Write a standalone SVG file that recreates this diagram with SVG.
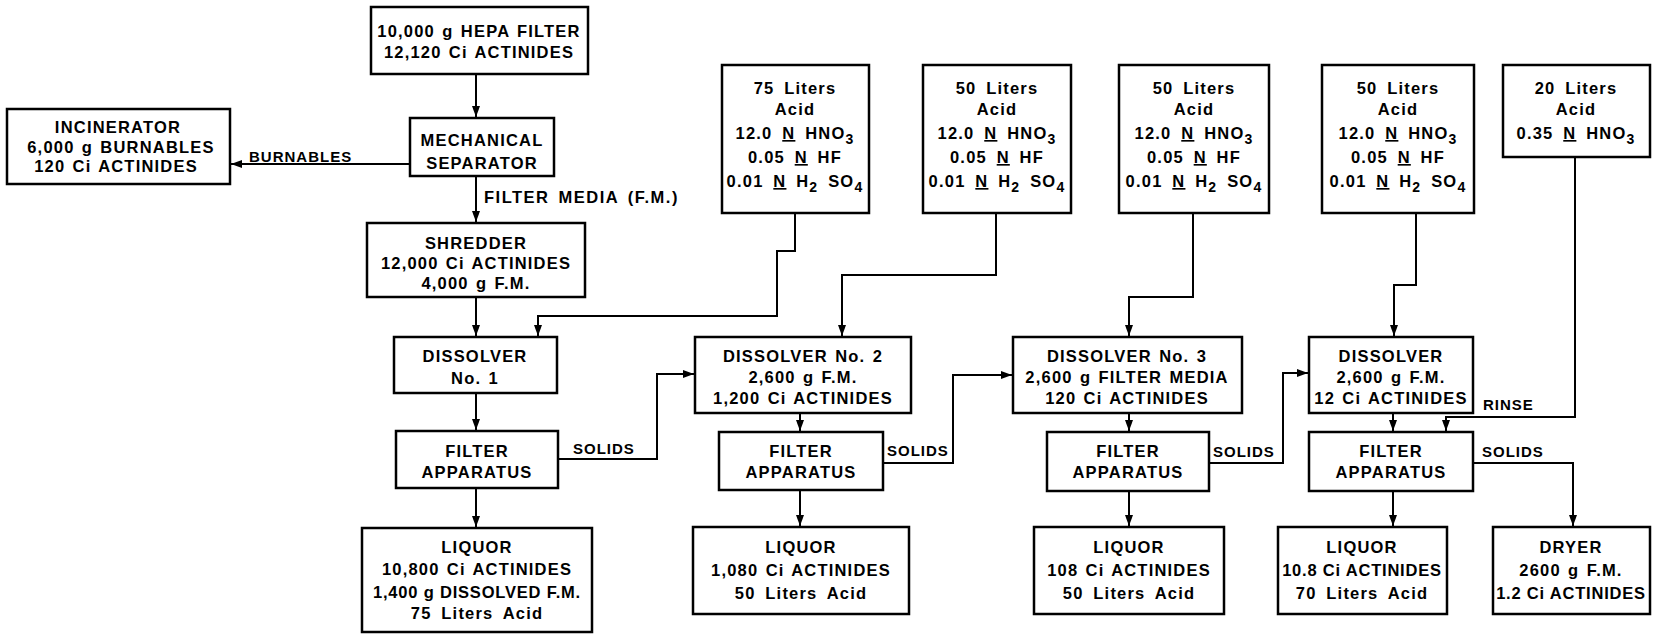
<svg xmlns="http://www.w3.org/2000/svg" width="1654" height="634" viewBox="0 0 1654 634">
<style>
.box{fill:#fff;stroke:#000;stroke-width:2.5}
.t{font-family:"Liberation Sans",Arial,sans-serif;font-weight:bold;font-size:16.5px;letter-spacing:1.2px;word-spacing:1.5px;text-anchor:middle;fill:#000}
.w{word-spacing:4px}
.n{letter-spacing:0.8px;word-spacing:0}
.lbl{font-family:"Liberation Sans",Arial,sans-serif;font-weight:bold;font-size:15px;letter-spacing:1px;fill:#000}
.big{font-size:16.5px;letter-spacing:1.5px;word-spacing:3px}
.c{fill:none;stroke:#000;stroke-width:2}
.u{text-decoration:underline}
.s{font-size:14px}
</style>
<defs>
<marker id="ar" markerUnits="userSpaceOnUse" markerWidth="12" markerHeight="10" refX="11" refY="4" orient="auto">
<path d="M0,0 L11,4 L0,8 Z" fill="#000"/>
</marker>
</defs>
<rect width="1654" height="634" fill="#fff"/>

<g id="connectors">
<path class="c" d="M476 74 V117" marker-end="url(#ar)"/>
<path class="c" d="M410 164 H231" marker-end="url(#ar)"/>
<path class="c" d="M476 176 V222" marker-end="url(#ar)"/>
<path class="c" d="M476 297 V336" marker-end="url(#ar)"/>
<path class="c" d="M795 213 V251 H777 V316 H538 V336" marker-end="url(#ar)"/>
<path class="c" d="M476 393 V430" marker-end="url(#ar)"/>
<path class="c" d="M476 488 V527" marker-end="url(#ar)"/>
<path class="c" d="M558 459 H657 V374 H694" marker-end="url(#ar)"/>
<path class="c" d="M996 213 V275 H842 V336" marker-end="url(#ar)"/>
<path class="c" d="M800 413 V431" marker-end="url(#ar)"/>
<path class="c" d="M800 490 V526" marker-end="url(#ar)"/>
<path class="c" d="M883 463 H953 V375 H1012" marker-end="url(#ar)"/>
<path class="c" d="M1193 213 V297 H1129 V336" marker-end="url(#ar)"/>
<path class="c" d="M1129 413 V431" marker-end="url(#ar)"/>
<path class="c" d="M1129 491 V526" marker-end="url(#ar)"/>
<path class="c" d="M1209 463 H1283 V373 H1308" marker-end="url(#ar)"/>
<path class="c" d="M1416 213 V285 H1394 V336" marker-end="url(#ar)"/>
<path class="c" d="M1393 413 V431" marker-end="url(#ar)"/>
<path class="c" d="M1575 157 V417 H1446 V431" marker-end="url(#ar)"/>
<path class="c" d="M1393 491 V526" marker-end="url(#ar)"/>
<path class="c" d="M1473 463 H1573 V526" marker-end="url(#ar)"/>
<text class="lbl" x="249" y="162">BURNABLES</text>
<text class="lbl big" x="484" y="203">FILTER MEDIA (F.M.)</text>
<text class="lbl" x="573" y="454">SOLIDS</text>
<text class="lbl" x="887" y="456">SOLIDS</text>
<text class="lbl" x="1213" y="457">SOLIDS</text>
<text class="lbl" x="1483" y="410">RINSE</text>
<text class="lbl" x="1482" y="457">SOLIDS</text>
</g>

<g id="hepa">
<rect class="box" x="371" y="7" width="217" height="67"/>
<text class="t" x="479" y="37">10,000 g HEPA FILTER</text>
<text class="t" x="479" y="58">12,120 Ci ACTINIDES</text>
</g>
<g id="incinerator">
<rect class="box" x="7" y="109" width="223" height="75"/>
<text class="t" x="118" y="133">INCINERATOR</text>
<text class="t" x="121" y="153">6,000 g BURNABLES</text>
<text class="t" x="116" y="172">120 Ci ACTINIDES</text>
</g>
<g id="separator">
<rect class="box" x="410" y="118" width="144" height="58"/>
<text class="t" x="482" y="146">MECHANICAL</text>
<text class="t" x="482" y="169">SEPARATOR</text>
</g>
<g id="shredder">
<rect class="box" x="367" y="223" width="218" height="74"/>
<text class="t" x="476" y="249">SHREDDER</text>
<text class="t" x="476" y="269">12,000 Ci ACTINIDES</text>
<text class="t" x="476" y="289">4,000 g F.M.</text>
</g>
<g id="dissolver1">
<rect class="box" x="394" y="337" width="163" height="56"/>
<text class="t" x="475" y="362">DISSOLVER</text>
<text class="t" x="475" y="384">No. 1</text>
</g>
<g id="filter1">
<rect class="box" x="396" y="431" width="162" height="57"/>
<text class="t" x="477" y="457">FILTER</text>
<text class="t" x="477" y="478">APPARATUS</text>
</g>
<g id="liquor1">
<rect class="box" x="362" y="528" width="230" height="104"/>
<text class="t" x="477" y="553">LIQUOR</text>
<text class="t" x="477" y="575">10,800 Ci ACTINIDES</text>
<text class="t n" x="477" y="598">1,400 g DISSOLVED F.M.</text>
<text class="t w" x="477" y="619">75 Liters Acid</text>
</g>

<g id="acid1">
<rect class="box" x="722" y="65" width="147" height="148"/>
<text class="t w" x="795" y="94">75 Liters</text>
<text class="t w" x="795" y="115">Acid</text>
<text class="t w" x="795" y="139">12.0 <tspan class="u">N</tspan> HNO<tspan class="s" dy="5">3</tspan></text>
<text class="t w" x="795" y="163">0.05 <tspan class="u">N</tspan> HF</text>
<text class="t w" x="795" y="187">0.01 <tspan class="u">N</tspan> H<tspan class="s" dy="5">2</tspan><tspan dy="-5"> SO</tspan><tspan class="s" dy="5">4</tspan></text>
</g>
<g id="acid2">
<rect class="box" x="923" y="65" width="148" height="148"/>
<text class="t w" x="997" y="94">50 Liters</text>
<text class="t w" x="997" y="115">Acid</text>
<text class="t w" x="997" y="139">12.0 <tspan class="u">N</tspan> HNO<tspan class="s" dy="5">3</tspan></text>
<text class="t w" x="997" y="163">0.05 <tspan class="u">N</tspan> HF</text>
<text class="t w" x="997" y="187">0.01 <tspan class="u">N</tspan> H<tspan class="s" dy="5">2</tspan><tspan dy="-5"> SO</tspan><tspan class="s" dy="5">4</tspan></text>
</g>
<g id="acid3">
<rect class="box" x="1119" y="65" width="150" height="148"/>
<text class="t w" x="1194" y="94">50 Liters</text>
<text class="t w" x="1194" y="115">Acid</text>
<text class="t w" x="1194" y="139">12.0 <tspan class="u">N</tspan> HNO<tspan class="s" dy="5">3</tspan></text>
<text class="t w" x="1194" y="163">0.05 <tspan class="u">N</tspan> HF</text>
<text class="t w" x="1194" y="187">0.01 <tspan class="u">N</tspan> H<tspan class="s" dy="5">2</tspan><tspan dy="-5"> SO</tspan><tspan class="s" dy="5">4</tspan></text>
</g>
<g id="acid4">
<rect class="box" x="1322" y="65" width="152" height="148"/>
<text class="t w" x="1398" y="94">50 Liters</text>
<text class="t w" x="1398" y="115">Acid</text>
<text class="t w" x="1398" y="139">12.0 <tspan class="u">N</tspan> HNO<tspan class="s" dy="5">3</tspan></text>
<text class="t w" x="1398" y="163">0.05 <tspan class="u">N</tspan> HF</text>
<text class="t w" x="1398" y="187">0.01 <tspan class="u">N</tspan> H<tspan class="s" dy="5">2</tspan><tspan dy="-5"> SO</tspan><tspan class="s" dy="5">4</tspan></text>
</g>
<g id="acid5">
<rect class="box" x="1503" y="65" width="147" height="92"/>
<text class="t w" x="1576" y="94">20 Liters</text>
<text class="t w" x="1576" y="115">Acid</text>
<text class="t w" x="1576" y="139">0.35 <tspan class="u">N</tspan> HNO<tspan class="s" dy="5">3</tspan></text>
</g>

<g id="dissolver2">
<rect class="box" x="695" y="337" width="216" height="76"/>
<text class="t" x="803" y="362">DISSOLVER No. 2</text>
<text class="t" x="803" y="383">2,600 g F.M.</text>
<text class="t" x="803" y="404">1,200 Ci ACTINIDES</text>
</g>
<g id="filter2">
<rect class="box" x="719" y="432" width="164" height="58"/>
<text class="t" x="801" y="457">FILTER</text>
<text class="t" x="801" y="478">APPARATUS</text>
</g>
<g id="liquor2">
<rect class="box" x="693" y="527" width="216" height="87"/>
<text class="t" x="801" y="553">LIQUOR</text>
<text class="t" x="801" y="576">1,080 Ci ACTINIDES</text>
<text class="t w" x="801" y="599">50 Liters Acid</text>
</g>

<g id="dissolver3">
<rect class="box" x="1013" y="337" width="229" height="76"/>
<text class="t" x="1127" y="362">DISSOLVER No. 3</text>
<text class="t" x="1127" y="383">2,600 g FILTER MEDIA</text>
<text class="t" x="1127" y="404">120 Ci ACTINIDES</text>
</g>
<g id="filter3">
<rect class="box" x="1047" y="432" width="162" height="59"/>
<text class="t" x="1128" y="457">FILTER</text>
<text class="t" x="1128" y="478">APPARATUS</text>
</g>
<g id="liquor3">
<rect class="box" x="1034" y="527" width="190" height="87"/>
<text class="t" x="1129" y="553">LIQUOR</text>
<text class="t" x="1129" y="576">108 Ci ACTINIDES</text>
<text class="t w" x="1129" y="599">50 Liters Acid</text>
</g>

<g id="dissolver4">
<rect class="box" x="1309" y="337" width="164" height="76"/>
<text class="t" x="1391" y="362">DISSOLVER</text>
<text class="t" x="1391" y="383">2,600 g F.M.</text>
<text class="t" x="1391" y="404">12 Ci ACTINIDES</text>
</g>
<g id="filter4">
<rect class="box" x="1309" y="432" width="164" height="59"/>
<text class="t" x="1391" y="457">FILTER</text>
<text class="t" x="1391" y="478">APPARATUS</text>
</g>
<g id="liquor4">
<rect class="box" x="1278" y="527" width="169" height="87"/>
<text class="t" x="1362" y="553">LIQUOR</text>
<text class="t n" x="1362" y="576">10.8 Ci ACTINIDES</text>
<text class="t w" x="1362" y="599">70 Liters Acid</text>
</g>
<g id="dryer">
<rect class="box" x="1493" y="527" width="157" height="87"/>
<text class="t" x="1571" y="553">DRYER</text>
<text class="t" x="1571" y="576">2600 g F.M.</text>
<text class="t n" x="1571" y="599">1.2 Ci ACTINIDES</text>
</g>
</svg>
